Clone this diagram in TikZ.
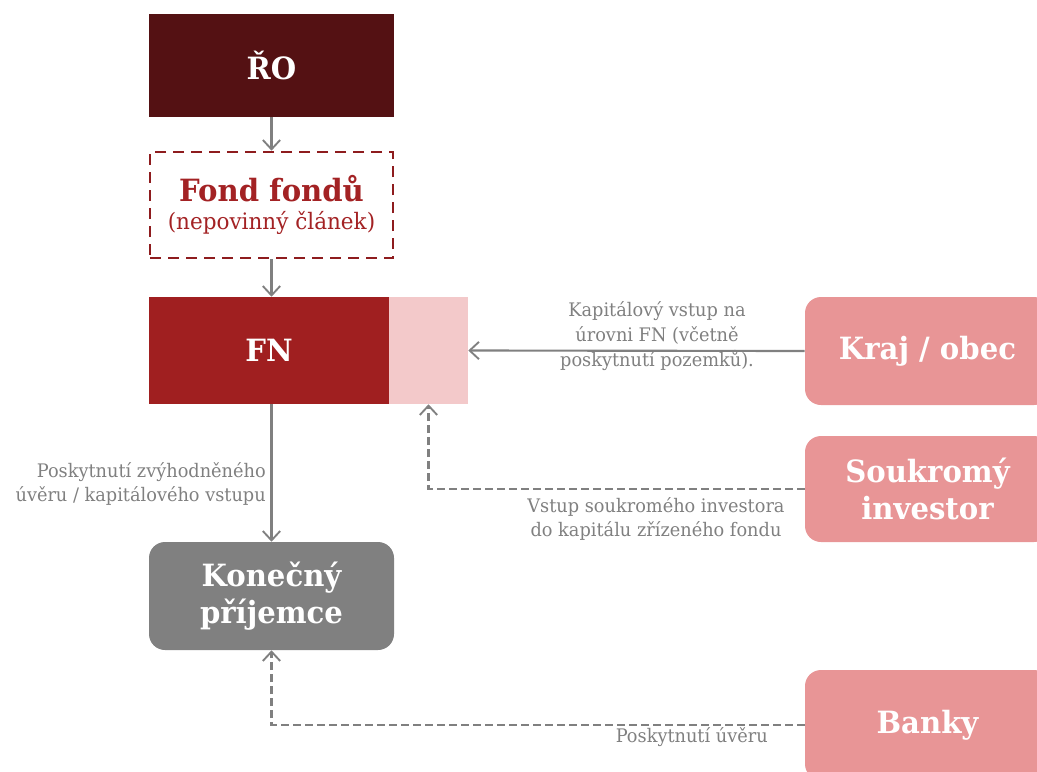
\documentclass[tikz,border=0pt]{standalone}
\usepackage{fontspec}
\setmainfont[FakeStretch=0.95]{DejaVu Serif}
\usetikzlibrary{arrows.meta}
\definecolor{darkred}{HTML}{541113}
\definecolor{fnred}{HTML}{A01F20}
\definecolor{fondred}{HTML}{8E1C1E}
\definecolor{fondtxt}{HTML}{A32224}
\definecolor{lightpink}{HTML}{F3C9CA}
\definecolor{rosebox}{HTML}{E89596}
\definecolor{greybox}{HTML}{808080}
\definecolor{conn}{HTML}{808080}
\tikzset{
  box/.style={minimum width=245*0.75pt, minimum height=108*0.75pt, inner sep=0pt, align=center, font=\bfseries\fontsize{23}{27.5}\selectfont, text=white},
  sidebox/.style={box, fill=rosebox, rounded corners=12pt},
  link/.style={draw=conn, line width=1.6pt, -{Straight Barb[length=7pt,width=13pt,line width=1.4pt]}},
  dlink/.style={link, dash pattern=on 6pt off 3pt},
  lab/.style={text=conn, font=\fontsize{14}{18.5}\selectfont, align=center, inner sep=0pt}
}
\begin{document}
\begin{tikzpicture}[x=0.75pt,y=-0.75pt]
\clip (0,0) rectangle (1037,771);
\node[box, fill=darkred, minimum height=103*0.75pt] (ro) at (271.5,65.5) {ŘO};
\node[box, draw=fondred, line width=2pt, dash pattern=on 8.5pt off 5pt, text=fondtxt, font=\fontsize{17}{21}\selectfont, minimum width=243*0.75pt, minimum height=106*0.75pt] (fond) at (271.5,205) {\textbf{\fontsize{23}{26}\selectfont Fond fondů}\\(nepovinný článek)};
\node[box, fill=fnred, minimum width=240*0.75pt, minimum height=107*0.75pt] (fn) at (269,350.5) {FN};
\node[box, fill=lightpink, minimum width=79*0.75pt, minimum height=107*0.75pt] (pink) at (428.5,350.5) {};
\node[sidebox] (kraj) at (927.5,351) {Kraj / obec};
\node[sidebox, minimum height=106*0.75pt] (souk) at (927.5,489) {Soukromý\\investor};
\node[box, fill=greybox, rounded corners=12pt] (kon) at (271.5,596) {Konečný\\příjemce};
\node[sidebox, minimum height=110*0.75pt] (banky) at (927.5,725) {Banky};
\draw[link] (ro.south) -- (fond.north);
\draw[link] (fond.south) -- (fond.south |- fn.north);
\draw[link] (kraj.west) -- (pink.east);
\draw[dlink] (souk.west) -| (pink.south);
\draw[link] (fond.south |- fn.south) -- (kon.north);
\draw[dlink] (banky.west) -| (kon.south);
\node[lab] (l1) at (657,336) {Kapitálový vstup na\\úrovni FN (včetně\\poskytnutí pozemků).};
\node[lab] (l2) at (656,519) {Vstup soukromého investora\\do kapitálu zřízeného fondu};
\node[lab, align=right, anchor=east] (l3) at (266,484) {Poskytnutí zvýhodněného\\úvěru / kapitálového vstupu};
\node[lab, anchor=east] (l4) at (768,737) {Poskytnutí úvěru};
\end{tikzpicture}
\end{document}
